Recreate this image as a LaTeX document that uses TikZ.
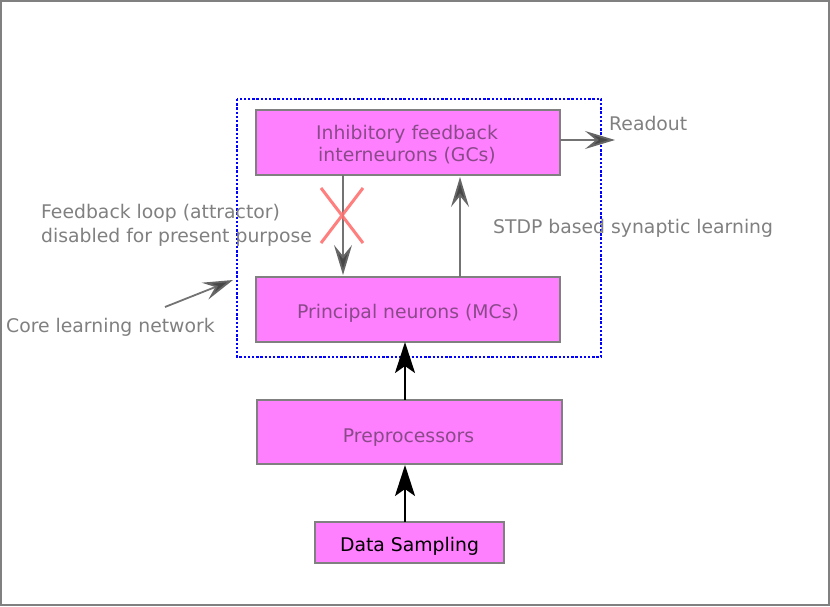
\documentclass[tikz,border=0pt]{standalone}
\usepackage{fontspec}
\setmainfont{DejaVu Sans}
\usetikzlibrary{arrows.meta}
\definecolor{boxfill}{HTML}{FF80FF}
\definecolor{boxline}{HTML}{808080}
\definecolor{boxtext}{HTML}{8A4A8A}
\definecolor{labtext}{HTML}{808080}
\definecolor{xred}{HTML}{FF7070}
\definecolor{coreblue}{HTML}{0000FF}
\tikzset{
  blk/.style={draw=boxline, line width=2.6pt, fill=boxfill, inner sep=0pt},
  blktxt/.style={text=boxtext, align=center, inner sep=0pt, anchor=base, font=\fontsize{18.8}{21}\selectfont},
  lab/.style={text=labtext, align=left, inner sep=0pt, font=\fontsize{18.8}{24}\selectfont},
  garrow/.style={draw=black!55, line width=1.8pt, -{Stealth[length=30pt,width=18pt,inset=11pt,fill=black!72,color=black!60]}},
  barrow/.style={draw=black, line width=2.2pt, -{Stealth[length=31pt,width=20pt,inset=7pt]}},
}
\begin{document}
\begin{tikzpicture}[x=1pt,y=-1pt]
\useasboundingbox (0,0) rectangle (830,607);
\draw[boxline, line width=2pt] (1,1) rectangle (829,605);
% dotted core box
\draw[coreblue, line width=2.6pt, dash pattern=on 2.4pt off 1.8pt] (237,99) rectangle (601,357);
% boxes
\node[blk, minimum width=304pt, minimum height=65pt] (gc) at (408,142.5) {};
\node[blk, minimum width=304pt, minimum height=65pt] (mc) at (408,309.5) {};
\node[blk, minimum width=305pt, minimum height=64pt] (pre) at (409.5,432) {};
\node[blk, minimum width=189pt, minimum height=41pt] (data) at (409.5,542.5) {};
\node[blktxt] (gct) at (407,161) {Inhibitory feedback\\interneurons (GCs)};
\node[blktxt] (mct) at (408,318) {Principal neurons (MCs)};
\node[blktxt] (pret) at (408.5,442.7) {Preprocessors};
\node[blktxt, text=black] (datat) at (409.5,551.7) {Data Sampling};
% labels
\node[lab, anchor=west] (readout) at (609,123) {Readout};
\node[lab, anchor=west] (stdp) at (493,228) {STDP based synaptic learning};
\node[lab, anchor=north west] (fb) at (41,204) {Feedback loop (attractor)\\disabled for present purpose};
\node[lab, anchor=west] (core) at (6,327) {Core learning network};
% coordinates
\coordinate (gcb) at (343,175);
\coordinate (mcTop) at (343,275);
\coordinate (mcTop2) at (460,277);
\coordinate (gcb2) at (460,177);
\coordinate (ros) at (560,140);
\coordinate (ro) at (615,140);
\coordinate (coreS) at (165,307);
\coordinate (coreE) at (233,280);
\coordinate (mcb) at (405,342);
\coordinate (preTop) at (405,400);
\coordinate (preb) at (405,465);
\coordinate (dataTop) at (405,522);
% connectors
\draw[garrow] (gcb) -- (mcTop);
\draw[garrow] (mcTop2) -- (gcb2);
\draw[garrow] (ros) -- (ro);
\draw[garrow] (coreS) -- (coreE);
\draw[barrow] (preTop) -- (mcb);
\draw[barrow] (dataTop) -- (preb);
% red cross
\draw[xred, opacity=0.9, line width=3pt] (321,188) -- (363,243) (363,188) -- (321,243);
\end{tikzpicture}
\end{document}
